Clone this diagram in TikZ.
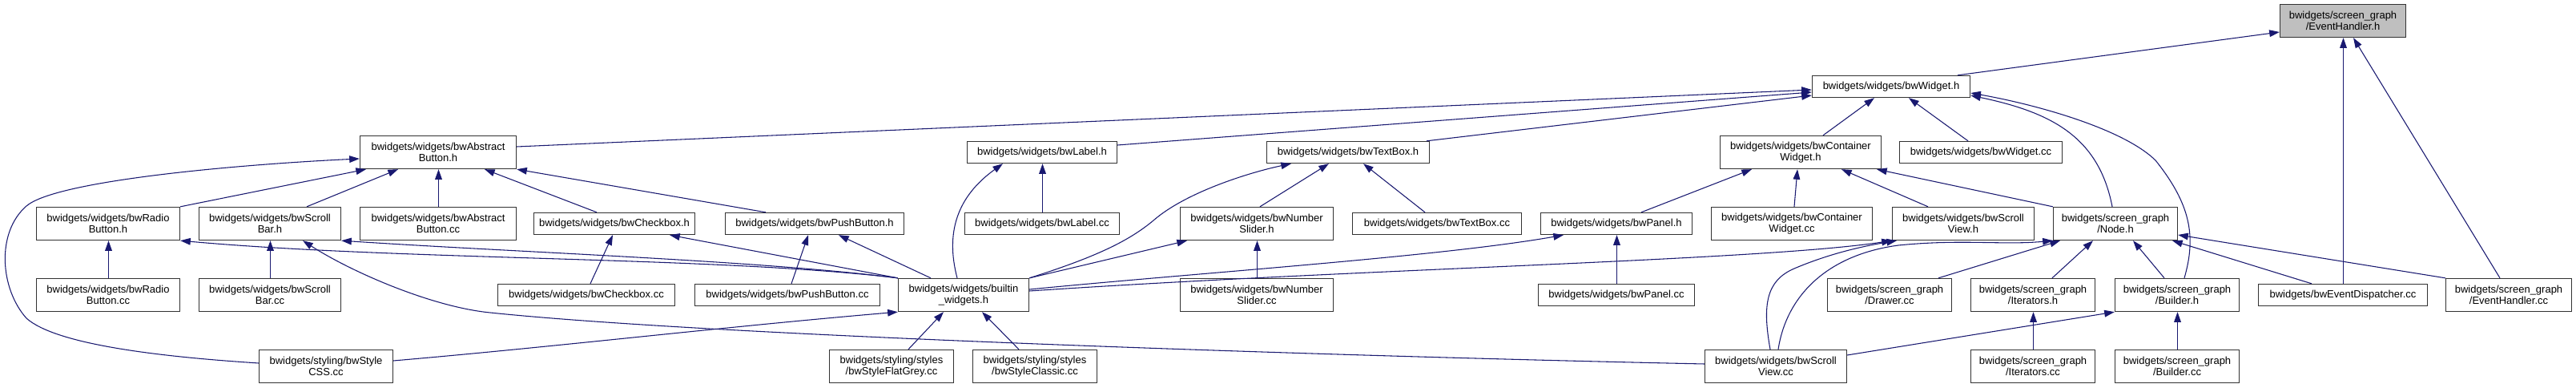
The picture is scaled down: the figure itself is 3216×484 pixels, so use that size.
\documentclass[tikz,border=0pt]{standalone}
\usepackage{fontspec}
\setmainfont{Liberation Sans}
\usetikzlibrary{arrows.meta}
\definecolor{edgeblue}{RGB}{25,25,112}
\definecolor{focusgray}{RGB}{191,191,191}
\tikzset{
  box/.style={draw=black!80, line width=1pt, fill=white, inner sep=0pt, align=center,
    font=\fontsize{9.75pt}{10.7pt}\selectfont},
  one/.style={minimum height=20.25pt},
  two/.style={minimum height=30.75pt},
  wd/.style={minimum width={#1*0.75pt}},
  e/.style={draw=edgeblue, line width=0.8pt, -{Triangle[length=9.5pt,width=6.5pt]}},
  vs/.style={xshift=0.375pt},
}
\begin{document}
\begin{tikzpicture}[x=0.75pt, y=-0.75pt]
\useasboundingbox (0,0) rectangle (3216,484);
% rank 0
\node[box,two,wd=157,fill=focusgray] (eh) at (2925,26) {bwidgets/screen\_graph\\/EventHandler.h};
% rank 1
\node[box,one,wd=197] (widget) at (2361,108) {bwidgets/widgets/bwWidget.h};
% rank 2
\node[box,two,wd=195] (abs) at (547,190) {bwidgets/widgets/bwAbstract\\Button.h};
\node[box,one,wd=187] (label) at (1301,190) {bwidgets/widgets/bwLabel.h};
\node[box,one,wd=203] (textbox) at (1683,190) {bwidgets/widgets/bwTextBox.h};
\node[box,two,wd=201] (container) at (2248,190) {bwidgets/widgets/bwContainer\\Widget.h};
\node[box,one,wd=203] (widgetcc) at (2473,190) {bwidgets/widgets/bwWidget.cc};
% rank 3
\node[box,two,wd=179] (radio) at (135,279) {bwidgets/widgets/bwRadio\\Button.h};
\node[box,two,wd=177] (scrollbar) at (337,279) {bwidgets/widgets/bwScroll\\Bar.h};
\node[box,two,wd=195] (abscc) at (547,279) {bwidgets/widgets/bwAbstract\\Button.cc};
\node[box,one,wd=201] (checkbox) at (767,279) {bwidgets/widgets/bwCheckbox.h};
\node[box,one,wd=223] (push) at (1017,279) {bwidgets/widgets/bwPushButton.h};
\node[box,one,wd=193] (labelcc) at (1301,279) {bwidgets/widgets/bwLabel.cc};
\node[box,two,wd=191] (number) at (1569,279) {bwidgets/widgets/bwNumber\\Slider.h};
\node[box,one,wd=211] (textboxcc) at (1794,279) {bwidgets/widgets/bwTextBox.cc};
\node[box,one,wd=189] (panel) at (2018,279) {bwidgets/widgets/bwPanel.h};
\node[box,two,wd=201] (containercc) at (2237,279) {bwidgets/widgets/bwContainer\\Widget.cc};
\node[box,two,wd=177] (scrollview) at (2451,279) {bwidgets/widgets/bwScroll\\View.h};
\node[box,two,wd=155] (node) at (2641,279) {bwidgets/screen\_graph\\/Node.h};
% rank 4
\node[box,two,wd=179] (radiocc) at (135,368) {bwidgets/widgets/bwRadio\\Button.cc};
\node[box,two,wd=177] (scrollbarcc) at (337,368) {bwidgets/widgets/bwScroll\\Bar.cc};
\node[box,one,wd=221] (checkboxcc) at (732,368) {bwidgets/widgets/bwCheckbox.cc};
\node[box,one,wd=231] (pushcc) at (983,368) {bwidgets/widgets/bwPushButton.cc};
\node[box,two,wd=163] (builtin) at (1203,368) {bwidgets/widgets/builtin\\\_widgets.h};
\node[box,two,wd=191] (numbercc) at (1569,368) {bwidgets/widgets/bwNumber\\Slider.cc};
\node[box,one,wd=195] (panelcc) at (2018,368) {bwidgets/widgets/bwPanel.cc};
\node[box,two,wd=155] (drawer) at (2359,368) {bwidgets/screen\_graph\\/Drawer.cc};
\node[box,two,wd=155] (iter) at (2538,368) {bwidgets/screen\_graph\\/Iterators.h};
\node[box,two,wd=155] (builder) at (2718,368) {bwidgets/screen\_graph\\/Builder.h};
\node[box,one,wd=211] (dispatcher) at (2925,368) {bwidgets/bwEventDispatcher.cc};
\node[box,two,wd=157] (ehcc) at (3132,368) {bwidgets/screen\_graph\\/EventHandler.cc};
% rank 5
\node[box,two,wd=167] (css) at (407,457) {bwidgets/styling/bwStyle\\CSS.cc};
\node[box,two,wd=155] (flatgrey) at (1113,457) {bwidgets/styling/styles\\/bwStyleFlatGrey.cc};
\node[box,two,wd=155] (classic) at (1292,457) {bwidgets/styling/styles\\/bwStyleClassic.cc};
\node[box,two,wd=177] (scrollviewcc) at (2217,457) {bwidgets/widgets/bwScroll\\View.cc};
\node[box,two,wd=155] (itercc) at (2538,457) {bwidgets/screen\_graph\\/Iterators.cc};
\node[box,two,wd=155] (buildercc) at (2718,457) {bwidgets/screen\_graph\\/Builder.cc};

% edges to EventHandler.h
\draw[e] (widget.north -| 2444,0) -- (eh.west |- 0,40);
\draw[e] ([vs]dispatcher.north) -- ([vs]eh.south);
\draw[e] (ehcc.north -| 3121,0) -- (eh.south -| 2938,0);
% edges to bwWidget.h
\draw[e] (abs.east |- 0,183) -- (widget.west |- 0,112);
\draw[e] (label.east |- 0,181) -- (widget.west |- 0,115);
\draw[e] (textbox.north -| 1781,0) -- (widget.west |- 0,119);
\draw[e] (container.north -| 2276,0) -- (widget.south -| 2340,0);
\draw[e] (widgetcc.north -| 2457,0) -- (widget.south -| 2383,0);
\draw[e] (node.north -| 2637,0) .. controls (2620,170) and (2560,140) .. (widget.east |- 0,119);
\draw[e] (builder.north -| 2727,0) .. controls (2742,295) and (2735,255) .. (2691,200) .. controls (2650,160) and (2540,130) .. (widget.east |- 0,116);
% edges to bwAbstractButton.h
\draw[e] (css.west |- 0,453) .. controls (200,445) and (70,430) .. (33,397) .. controls (0,360) and (-5,290) .. (33,257) .. controls (70,225) and (300,205) .. (abs.west |- 0,198);
\draw[e] (radio.north east) -- (abs.south -| 457,0);
\draw[e] (scrollbar.north -| 383,0) -- (abs.south -| 497,0);
\draw[e] ([vs]abscc.north) -- ([vs]abs.south);
\draw[e] (checkbox.north -| 745,0) -- (abs.south -| 605,0);
\draw[e] (push.north -| 956,0) -- (abs.south east);
% edges to bwLabel.h
\draw[e] (builtin.north -| 1195,0) .. controls (1180,290) and (1195,245) .. (label.south -| 1252,0);
\draw[e] ([vs]labelcc.north) -- ([vs]label.south);
% edges to bwTextBox.h
\draw[e] (builtin.north east) .. controls (1370,320) and (1410,300) .. (1440,275) .. controls (1480,240) and (1560,215) .. (textbox.south -| 1612,0);
\draw[e] (number.north -| 1573,0) -- (textbox.south -| 1659,0);
\draw[e] (textboxcc.north -| 1779,0) -- (textbox.south -| 1702,0);
% edges to bwContainerWidget.h
\draw[e] (panel.north -| 2049,0) -- (container.south -| 2187,0);
\draw[e] (containercc.north -| 2240,0) -- (container.south -| 2244,0);
\draw[e] (scrollview.north -| 2407,0) -- (container.south -| 2299,0);
\draw[e] (node.north west) -- (container.south -| 2343,0);
% edges to bwRadioButton.h
\draw[e] ([vs]radiocc.north) -- ([vs]radio.south);
\draw[e] (builtin.north west) .. controls (900,320) and (500,325) .. (radio.south east);
% edges to bwScrollBar.h
\draw[e] ([vs]scrollbarcc.north) -- ([vs]scrollbar.south);
\draw[e] (builtin.north west) .. controls (950,325) and (650,315) .. (scrollbar.south east);
\draw[e] (scrollviewcc.west |- 0,454) .. controls (1700,445) and (900,420) .. (612,390) .. controls (540,383) and (440,340) .. (scrollbar.south -| 378,0);
% edges to bwCheckbox.h
\draw[e] (checkboxcc.north -| 737,0) -- (checkbox.south -| 765,0);
\draw[e] (builtin.north west) -- (checkbox.south -| 836,0);
% edges to bwPushButton.h
\draw[e] (pushcc.north -| 988,0) -- (push.south -| 1009,0);
\draw[e] (builtin.north -| 1162,0) -- (push.south -| 1047,0);
% edges to bwNumberSlider.h
\draw[e] ([vs]numbercc.north) -- ([vs]number.south);
\draw[e] (builtin.north east) -- (number.south -| 1482,0);
% edges to bwPanel.h
\draw[e] ([vs]panelcc.north) -- ([vs]panel.south);
\draw[e] (builtin.east |- 0,361) .. controls (1500,340) and (1800,320) .. (panel.south -| 1952,0);
% edges to bwScrollView.h
\draw[e] (builtin.east |- 0,363) .. controls (1700,335) and (2200,325) .. (scrollview.south west);
\draw[e] (scrollviewcc.north -| 2210,0) .. controls (2200,380) and (2205,350) .. (2240,335) .. controls (2280,318) and (2320,308) .. (scrollview.south -| 2368,0);
% edges to Node.h
\draw[e] (scrollviewcc.north -| 2220,0) .. controls (2230,370) and (2280,318) .. (2370,306) .. controls (2450,298) and (2500,306) .. (node.south west);
\draw[e] (drawer.north -| 2420,0) -- (node.south -| 2572,0);
\draw[e] (iter.north -| 2562,0) -- (node.south -| 2613,0);
\draw[e] (builder.north -| 2702,0) -- (node.south -| 2663,0);
\draw[e] (dispatcher.north -| 2886,0) -- (node.south -| 2712,0);
\draw[e] (ehcc.north west) -- (node.east |- 0,293);
% edges to Iterators.h and Builder.h
\draw[e] ([vs]itercc.north) -- ([vs]iter.south);
\draw[e] ([vs]buildercc.north) -- ([vs]builder.south);
\draw[e] (scrollviewcc.east |- 0,443) -- (builder.south west);
% edges to builtin_widgets.h
\draw[e] (css.east |- 0,450) .. controls (700,432) and (900,408) .. (builtin.south west);
\draw[e] (flatgrey.north -| 1134,0) -- (builtin.south -| 1178,0);
\draw[e] (classic.north -| 1272,0) -- (builtin.south -| 1226,0);
\end{tikzpicture}
\end{document}
